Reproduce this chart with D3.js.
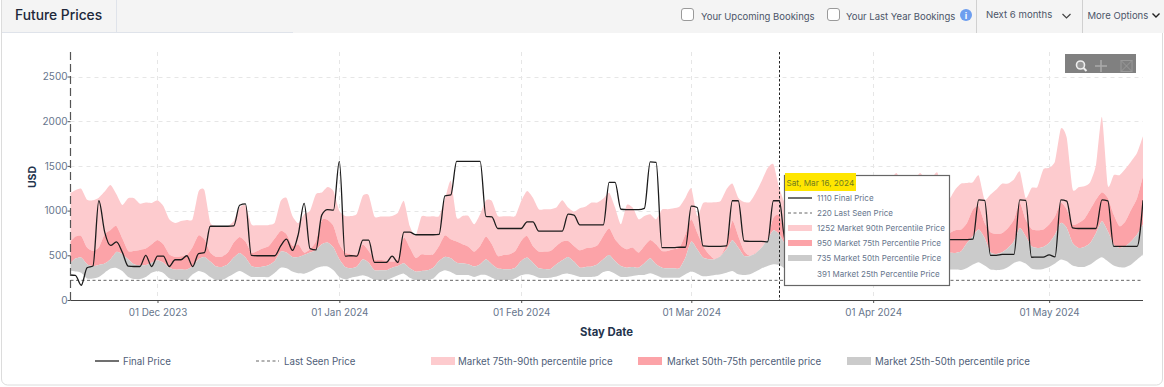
<!DOCTYPE html>
<html>
<head>
<meta charset="utf-8">
<script src="https://cdn.jsdelivr.net/npm/d3@7"></script>
<style>
  html, body { margin: 0; padding: 0; background: #fff; }
  svg { display: block; }
  text { font-family: Inter, "Noto Sans", sans-serif; }
</style>
</head>
<body>
<svg></svg>
<script>
// daily values, first entry is the start date
const startDate = new Date(2023, 10, 16)

const finalPrice = [
  280,275,165,360,380,1110,760,610,650,535,
  380,375,375,500,375,490,490,375,450,450,
  495,375,520,530,825,825,825,825,830,1060,
  1075,500,495,495,495,495,605,680,555,735,
  1080,575,560,950,1010,1005,1550,490,495,490,
  670,670,420,420,420,490,420,760,760,730,
  730,730,730,735,1165,1175,1550,1550,1550,1550,
  1550,935,930,800,800,800,800,800,875,875,
  770,770,770,770,770,960,950,840,840,840,
  840,840,1315,1315,1015,1010,1010,1010,1025,1545,
  1540,585,585,585,590,590,1050,1035,605,600,
  600,600,605,1110,1110,660,655,655,655,650,
  1110,1110,670,670,670,670,670,1110,1110,670,
  670,670,670,670,1110,1110,670,670,670,670,
  670,1110,1110,670,670,670,670,670,1110,1110,
  675,675,675,675,680,1120,1115,500,500,510,
  510,510,1120,1115,478,480,480,505,482,1120,
  1105,806,800,800,800,800,1120,1110,600,600,
  600,600,600,1115]

const market90 = [
  1190,1228,1245,1120,1115,1145,1213,1287,1183,1063,
  1138,1138,1078,1090,1086,1116,1052,903,862,885,
  896,907,1213,1228,866,828,820,828,885,1034,
  1060,847,836,836,840,866,1108,1142,940,860,
  960,997,1183,1202,1265,1220,997,940,940,966,
  1165,1172,933,933,933,940,977,1108,828,717,
  933,933,937,940,1127,1332,922,940,940,847,
  959,1116,1108,940,936,936,940,1108,1220,1145,
  1015,1015,1015,1034,1116,1034,989,1026,1045,1090,
  1090,1134,1200,1034,847,1064,1034,903,940,960,
  903,1011,1015,1026,1045,1145,1246,940,1086,1090,
  1094,1108,1239,1302,1145,1097,1097,1202,1332,1474,
  1519,1252,1080,1160,1240,1300,1380,1410,1200,1180,
  1220,1250,1280,1300,1380,1250,1200,1230,1260,1300,
  1350,1420,1280,1300,1340,1420,1340,1360,1420,1012,
  1123,1235,1302,1310,1317,1392,1123,1180,1235,1302,
  1302,1347,1437,1142,1254,1265,1459,1478,1552,1918,
  1814,1243,1261,1272,1317,1515,2048,1280,1396,1396,
  1467,1552,1646,1832]

const market75 = [
  640,709,717,586,549,586,735,784,829,690,
  549,549,560,575,623,672,623,512,482,489,
  504,594,724,679,530,482,486,530,642,705,
  653,530,549,579,605,690,773,736,605,623,
  530,567,653,892,896,829,623,530,510,510,
  620,549,450,450,440,430,460,698,586,470,
  512,504,512,605,724,679,653,623,597,542,
  605,709,623,493,504,512,549,661,717,605,
  542,542,549,605,653,661,605,556,579,586,
  612,717,802,679,605,567,586,530,605,672,
  623,549,549,567,586,736,903,754,605,512,
  456,493,623,885,717,549,493,530,586,698,
  922,950,740,700,680,690,740,880,760,660,
  650,660,690,720,860,740,660,650,660,690,
  730,850,730,680,690,720,760,720,740,750,
  750,780,788,862,1012,1049,862,758,739,750,
  806,900,1086,900,795,780,788,844,937,1086,
  1012,844,862,907,1012,1123,1206,1142,956,825,
  881,1012,1142,1385]

const market50 = [
  400,463,474,400,378,392,407,456,538,512,
  456,400,389,392,418,444,418,362,340,340,
  340,381,456,482,430,374,370,400,474,526,
  474,381,366,374,392,437,541,530,482,482,
  504,530,556,623,642,586,456,370,355,374,
  456,418,333,333,333,362,381,411,355,318,
  325,333,362,437,482,467,418,411,400,374,
  400,456,400,351,344,344,362,437,474,418,
  355,347,347,400,444,482,430,362,370,374,
  400,456,504,437,381,362,370,362,411,467,
  400,362,355,355,355,474,653,567,474,456,
  456,493,567,668,586,493,493,523,586,679,
  780,735,620,560,530,540,590,720,620,520,
  500,510,530,570,700,600,510,500,510,530,
  570,690,580,510,500,520,560,530,520,520,
  527,527,545,638,713,788,694,534,515,534,
  583,657,806,713,601,583,594,638,732,862,
  806,638,583,594,638,750,881,769,620,583,
  601,657,732,844]

const market25 = [
  330,318,306,240,240,258,306,351,359,325,
  258,236,236,258,306,325,303,243,224,224,
  224,288,325,306,258,224,224,258,295,325,
  295,258,258,258,258,306,362,355,318,299,
  295,318,355,374,374,333,258,232,250,262,
  277,258,224,224,224,250,277,295,250,224,
  224,224,240,306,333,314,280,280,280,258,
  280,280,250,224,224,224,243,277,288,277,
  250,247,250,262,288,295,280,258,258,258,
  269,314,325,295,258,258,269,280,280,299,
  277,250,250,250,250,288,318,295,265,269,
  280,288,306,325,288,280,288,318,355,381,
  400,391,350,330,320,320,340,400,350,320,
  310,320,330,350,400,350,320,310,320,330,
  350,390,350,320,320,330,340,340,340,340,
  340,340,336,359,396,422,385,340,333,340,
  370,415,433,407,351,340,348,370,407,452,
  433,385,370,370,396,444,478,433,385,366,
  366,396,452,508]

const lastSeenPrice = 220
const hoverIndex = 121

const yTicks = [0, 500, 1000, 1500, 2000, 2500]
const xTicks = [new Date(2023, 11, 1), new Date(2024, 0, 1), new Date(2024, 1, 1),
                new Date(2024, 2, 1), new Date(2024, 3, 1), new Date(2024, 4, 1)]

const tooltipDate = "Sat, Mar 16, 2024"
const tooltipRows = ["Final Price", "Last Seen Price", "Market 90th Percentile Price",
                     "Market 75th Percentile Price", "Market 50th Percentile Price", "Market 25th Percentile Price"]
const legendLabels = ["Final Price", "Last Seen Price", "Market 75th-90th percentile price",
                      "Market 50th-75th percentile price", "Market 25th-50th percentile price"]

const width = 1164
const height = 387
const textColor = "#66758c"
const pink1 = "#fdcbce"
const pink2 = "#fca3a8"
const grey = "#cbcbcb"

const dates = finalPrice.map((v, i) => d3.timeDay.offset(startDate, i))

let svg = d3.select("svg")
    .attr("width", width)
    .attr("height", height)

// card + header bar
svg.append("rect")
    .attr("x", 1.5).attr("y", -10)
    .attr("width", width - 3).attr("height", 395)
    .attr("rx", 6)
    .attr("fill", "#fff").attr("stroke", "#dcdcdc")

svg.append("rect").attr("x", 2).attr("y", 0).attr("width", width - 2).attr("height", 33).attr("fill", "#f4f4f4")
svg.append("line").attr("x1", 2).attr("x2", 293).attr("y1", 32.5).attr("y2", 32.5).attr("stroke", "#dfe3ea")
svg.append("line").attr("x1", 116.5).attr("x2", 116.5).attr("y1", 0).attr("y2", 32).attr("stroke", "#dfe3ea")

svg.append("text").attr("x", 15).attr("y", 20)
    .attr("font-size", 13.8).attr("font-weight", 500).attr("fill", "#20283a")
    .text("Future Prices")

function checkbox(x, label, labelX) {
    svg.append("rect").attr("x", x + 0.5).attr("y", 8.5)
        .attr("width", 12).attr("height", 12).attr("rx", 2.5)
        .attr("fill", "#fff").attr("stroke", "#9a9a9a")
    svg.append("text").attr("x", labelX).attr("y", 20)
        .attr("font-size", 9.5).attr("fill", "#4b5568").text(label)
}
checkbox(681, "Your Upcoming Bookings", 701)
checkbox(827, "Your Last Year Bookings", 846)

svg.append("circle").attr("cx", 966).attr("cy", 15).attr("r", 6).attr("fill", "#6d9eef")
svg.append("text").attr("x", 966).attr("y", 18.5).attr("text-anchor", "middle")
    .attr("font-size", 9).attr("font-weight", 700).attr("fill", "#fff").text("i")

svg.selectAll(".divider").data([976.5, 1082.5]).enter().append("line")
    .attr("class", "divider")
    .attr("x1", d => d).attr("x2", d => d).attr("y1", 0).attr("y2", 33)
    .attr("stroke", "#d0d0d0")

svg.append("text").attr("x", 986).attr("y", 18).attr("font-size", 9.6).attr("fill", "#4b5568").text("Next 6 months")
svg.append("text").attr("x", 1087.5).attr("y", 19).attr("font-size", 9.5).attr("fill", "#4b5568").text("More Options")
svg.append("path").attr("d", "M1062.5 14l4 4 4-4").attr("fill", "none").attr("stroke", "#444").attr("stroke-width", 1.2)
svg.append("path").attr("d", "M1152.5 13.5l3.5 3.5 3.5-3.5").attr("fill", "none").attr("stroke", "#222").attr("stroke-width", 1.4)

// scales
const x = d3.scaleTime()
    .domain([startDate, d3.timeDay.offset(startDate, finalPrice.length - 1)])
    .range([69.5, 1143])

const y = d3.scaleLinear()
    .domain([0, 2500])
    .range([300, 76.5])

const plotLeft = 70.5
const plotRight = 1143
const plotTop = 52
const plotBottom = 300

svg.append("clipPath").attr("id", "plot")
    .append("rect")
    .attr("x", plotLeft).attr("y", plotTop)
    .attr("width", plotRight - plotLeft).attr("height", plotBottom - plotTop)

// grid
svg.selectAll(".gridy").data(yTicks.slice(1)).enter().append("line")
    .attr("class", "gridy")
    .attr("x1", plotLeft).attr("x2", plotRight)
    .attr("y1", d => Math.round(y(d)) + 0.5).attr("y2", d => Math.round(y(d)) + 0.5)
    .attr("stroke", "#e6e6e6").attr("stroke-dasharray", "4 4")

svg.selectAll(".gridx").data(xTicks).enter().append("line")
    .attr("class", "gridx")
    .attr("x1", d => Math.round(x(d)) + 0.5).attr("x2", d => Math.round(x(d)) + 0.5)
    .attr("y1", plotTop).attr("y2", plotBottom)
    .attr("stroke", "#e6e6e6").attr("stroke-dasharray", "4 4")

// bands
function band(lower, upper, color) {
    let area = d3.area()
        .x((d, i) => x(dates[i]))
        .y0((d, i) => y(lower[i]))
        .y1((d, i) => y(upper[i]))
        .curve(d3.curveCardinal.tension(0.4))
    svg.append("path")
        .datum(dates)
        .attr("clip-path", "url(#plot)")
        .attr("d", area)
        .attr("fill", color)
}
band(market75, market90, pink1)
band(market50, market75, pink2)
band(market25, market50, grey)

// last seen price
svg.append("line")
    .attr("x1", plotLeft).attr("x2", plotRight)
    .attr("y1", y(lastSeenPrice)).attr("y2", y(lastSeenPrice))
    .attr("stroke", "#555").attr("stroke-width", 0.9).attr("stroke-dasharray", "3 2.5")

// final price
let line = d3.line()
    .x((d, i) => x(dates[i]))
    .y(d => y(d))
    .curve(d3.curveMonotoneX)

svg.append("path")
    .datum(finalPrice)
    .attr("clip-path", "url(#plot)")
    .attr("d", line)
    .attr("fill", "none")
    .attr("stroke", "#1c1c1c")
    .attr("stroke-width", 1.3)

// axes
let yAxis = svg.append("g")
    .attr("transform", `translate(${plotLeft},0)`)
    .call(d3.axisLeft(y).tickValues(yTicks).tickFormat(d3.format("d")).tickSize(3).tickPadding(0))
yAxis.select(".domain").remove()
yAxis.selectAll("text").attr("font-size", 10).attr("fill", textColor).style("font-family", "Inter")
yAxis.selectAll("line").attr("stroke", "#555")

svg.append("line")
    .attr("x1", plotLeft).attr("x2", plotLeft)
    .attr("y1", plotTop).attr("y2", plotBottom)
    .attr("stroke", "#555").attr("stroke-width", 1.2).attr("stroke-dasharray", "8 4")

let xAxis = svg.append("g")
    .attr("transform", `translate(0,${plotBottom})`)
    .call(d3.axisBottom(x).tickValues(xTicks).tickFormat(d3.timeFormat("%d %b %Y")).tickSize(3).tickPadding(6))
xAxis.select(".domain").remove()
xAxis.selectAll("text").attr("font-size", 9.9).attr("fill", textColor).style("font-family", "Inter")
xAxis.selectAll("line").attr("stroke", "#555")

svg.append("line")
    .attr("x1", plotLeft).attr("x2", plotRight)
    .attr("y1", plotBottom + 0.5).attr("y2", plotBottom + 0.5)
    .attr("stroke", "#444").attr("stroke-width", 1.2)

svg.append("text")
    .attr("transform", "translate(36,177) rotate(-90)")
    .attr("text-anchor", "middle")
    .attr("font-size", 10.5).attr("font-weight", 700).attr("fill", "#24344d")
    .text("USD")

svg.append("text")
    .attr("x", 606.5).attr("y", 336)
    .attr("text-anchor", "middle")
    .attr("font-size", 11.3).attr("font-weight", 700).attr("fill", "#24344d")
    .text("Stay Date")

// hover line
svg.append("line")
    .attr("x1", Math.round(x(dates[hoverIndex])) + 0.5).attr("x2", Math.round(x(dates[hoverIndex])) + 0.5)
    .attr("y1", plotTop).attr("y2", plotBottom)
    .attr("stroke", "#222").attr("stroke-dasharray", "2.5 2")

// zoom toolbox
svg.append("rect").attr("x", 1065).attr("y", 54).attr("width", 71).attr("height", 19).attr("fill", "#808080")
svg.append("circle").attr("cx", 1080.5).attr("cy", 65).attr("r", 4).attr("fill", "#999").attr("stroke", "#eee").attr("stroke-width", 1.6)
svg.append("path").attr("d", "M1083.5 68l3 3").attr("stroke", "#eee").attr("stroke-width", 2)
svg.append("path").attr("d", "M1101 60v12M1095 66h12").attr("stroke", "#aaa").attr("stroke-width", 1.5)
svg.append("rect").attr("x", 1121).attr("y", 60.5).attr("width", 11).attr("height", 11).attr("fill", "none").attr("stroke", "#999")
svg.append("path").attr("d", "M1121 60.5l11 11M1132 60.5l-11 11").attr("stroke", "#999")

// tooltip
const tipX = 784.5
const tipRowY = [198, 213, 228, 243, 258, 274]
const tipValues = [finalPrice[hoverIndex], lastSeenPrice, market90[hoverIndex], market75[hoverIndex], market50[hoverIndex], market25[hoverIndex]]

svg.append("rect").attr("x", tipX).attr("y", 175.5).attr("width", 165).attr("height", 110)
    .attr("fill", "#fff").attr("stroke", "#666").attr("stroke-width", 1.2)
svg.append("rect").attr("x", 785).attr("y", 173).attr("width", 71).attr("height", 18).attr("fill", "#ffe600")
svg.append("text").attr("x", 786.5).attr("y", 186).attr("font-size", 8.2).attr("fill", "#6f7d20").text(tooltipDate)

svg.selectAll(".tiplabel").data(tooltipRows).enter().append("text")
    .attr("class", "tiplabel")
    .attr("x", 817)
    .attr("y", (d, i) => tipRowY[i] + 3)
    .attr("font-size", 8)
    .attr("fill", textColor)
    .text((d, i) => tipValues[i] + " " + d)

svg.append("line").attr("x1", 788).attr("x2", 812).attr("y1", tipRowY[0]).attr("y2", tipRowY[0]).attr("stroke", "#111").attr("stroke-width", 1.2)
svg.append("line").attr("x1", 788).attr("x2", 812).attr("y1", tipRowY[1]).attr("y2", tipRowY[1]).attr("stroke", "#666").attr("stroke-dasharray", "3 2.5")
svg.selectAll(".tipswatch").data([pink1, pink2, grey]).enter().append("rect")
    .attr("class", "tipswatch")
    .attr("x", 788).attr("width", 24).attr("height", 6)
    .attr("y", (d, i) => tipRowY[i + 2] - 3)
    .attr("fill", d => d)

// legend
const legendY = 361
const legendTextX = [123, 284, 458, 667, 875]
const legendKeyX = [95, 256, 431, 638, 847]

svg.selectAll(".legendlabel").data(legendLabels).enter().append("text")
    .attr("class", "legendlabel")
    .attr("x", (d, i) => legendTextX[i])
    .attr("y", legendY + 4)
    .attr("font-size", 9.7)
    .attr("fill", "#4f5e78")
    .text(d => d)

svg.append("line").attr("x1", legendKeyX[0]).attr("x2", legendKeyX[0] + 24).attr("y1", legendY).attr("y2", legendY).attr("stroke", "#222").attr("stroke-width", 1.3)
svg.append("line").attr("x1", legendKeyX[1]).attr("x2", legendKeyX[1] + 23).attr("y1", legendY).attr("y2", legendY).attr("stroke", "#666").attr("stroke-dasharray", "3 2.5")
svg.selectAll(".legendswatch").data([pink1, pink2, grey]).enter().append("rect")
    .attr("class", "legendswatch")
    .attr("x", (d, i) => legendKeyX[i + 2])
    .attr("y", legendY - 4)
    .attr("width", 24).attr("height", 8)
    .attr("fill", d => d)
</script>
</body>
</html>
